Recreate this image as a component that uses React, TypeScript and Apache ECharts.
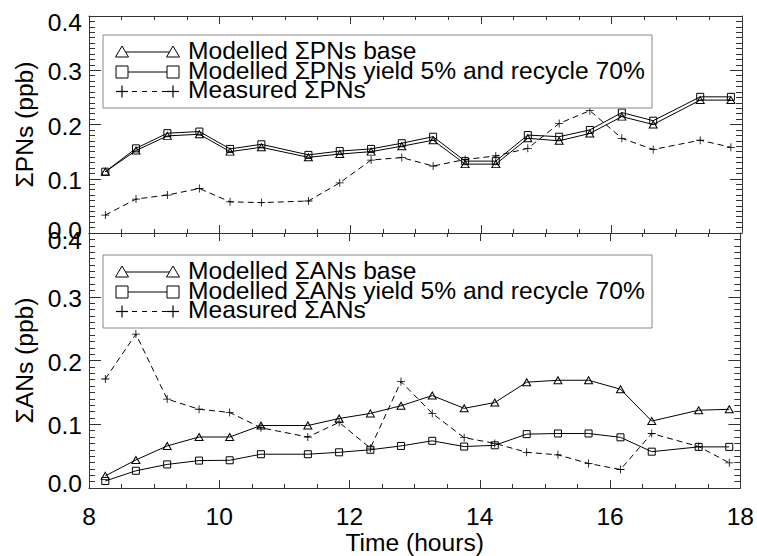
import React, { useEffect, useRef } from "react";
import * as echarts from "echarts";

const times = [8.25, 8.72, 9.2, 9.69, 10.16, 10.64, 11.36, 11.84, 12.32, 12.79, 13.27, 13.76, 14.23, 14.72, 15.2, 15.67, 16.16, 16.64, 17.36, 17.83];

const pnBase = [0.113, 0.152, 0.179, 0.182, 0.150, 0.158, 0.1395, 0.1455, 0.150, 0.160, 0.171, 0.127, 0.127, 0.1745, 0.170, 0.1835, 0.2145, 0.200, 0.245, 0.245];
const pnYield = [0.113, 0.156, 0.184, 0.187, 0.155, 0.1635, 0.144, 0.151, 0.155, 0.1655, 0.1775, 0.1325, 0.1325, 0.1805, 0.1775, 0.190, 0.222, 0.207, 0.251, 0.251];
const pnMeasured = [0.033, 0.0625, 0.070, 0.082, 0.0575, 0.056, 0.059, 0.0925, 0.1345, 0.139, 0.1235, 0.1355, 0.142, 0.156, 0.202, 0.2255, 0.1745, 0.154, 0.171, 0.158];

const anBase = [0.019, 0.044, 0.066, 0.080, 0.080, 0.098, 0.098, 0.109, 0.117, 0.129, 0.145, 0.125, 0.134, 0.166, 0.169, 0.169, 0.155, 0.105, 0.122, 0.1235];
const anYield = [0.011, 0.027, 0.037, 0.043, 0.0435, 0.053, 0.053, 0.056, 0.060, 0.066, 0.074, 0.065, 0.067, 0.0845, 0.0855, 0.0855, 0.0795, 0.057, 0.0645, 0.0645];
const anMeasured = [0.171, 0.2415, 0.1395, 0.1235, 0.1185, 0.0945, 0.080, 0.103, 0.0625, 0.167, 0.117, 0.079, 0.070, 0.056, 0.052, 0.0385, 0.029, 0.0855, 0.065, 0.0395];

const pnLegend = ["Modelled ΣPNs base", "Modelled ΣPNs yield 5% and recycle 70%", "Measured ΣPNs"];
const anLegend = ["Modelled ΣANs base", "Modelled ΣANs yield 5% and recycle 70%", "Measured ΣANs"];
const yTitles = ["ΣPNs (ppb)", "ΣANs (ppb)"];
const xTitle = "Time (hours)";

const FONT = '"Liberation Sans", Arial, Helvetica, sans-serif';
const FS = 24.6;
const INK = "#000";
const FRAME = "#333";

const PLUS = "path://M-0.1,-1 L0.1,-1 L0.1,-0.1 L1,-0.1 L1,0.1 L0.1,0.1 L0.1,1 L-0.1,1 L-0.1,0.1 L-1,0.1 L-1,-0.1 L-0.1,-0.1 Z";

function pairs(vals: number[]) {
  return times.map((t, i) => [t, vals[i]]);
}

function xAx(grid: number, pos: "top" | "bottom", labels: boolean, name?: string) {
  return {
    type: "value",
    gridIndex: grid,
    position: pos,
    min: 8,
    max: 18,
    interval: 2,
    name: name,
    nameLocation: "middle",
    nameGap: 42,
    nameTextStyle: { fontFamily: FONT, fontSize: FS, color: INK },
    axisLine: { show: true, onZero: false, lineStyle: { color: FRAME, width: 1 } },
    axisTick: { show: true, inside: true, length: 8, lineStyle: { color: FRAME } },
    minorTick: { show: true, splitNumber: 4, length: 4, lineStyle: { color: FRAME } },
    axisLabel: { show: labels, fontFamily: FONT, fontSize: FS, color: INK, margin: 16 },
    splitLine: { show: false },
  };
}

// shifts (px, + = down) for the min and max labels of each panel
function yAx(grid: number, pos: "left" | "right", labels: boolean, name?: string, minShift = 0, maxShift = 0) {
  const pad = (d: number) => (d >= 0 ? [2 * d, 0, 0, 0] : [0, 0, -2 * d, 0]);
  return {
    type: "value",
    gridIndex: grid,
    position: pos,
    min: 0,
    max: 0.4,
    interval: 0.1,
    name: name,
    nameLocation: "middle",
    nameRotate: 90,
    nameGap: 52,
    nameTextStyle: { fontFamily: FONT, fontSize: FS, color: INK },
    axisLine: { show: true, onZero: false, lineStyle: { color: FRAME, width: 1 } },
    axisTick: { show: true, inside: true, length: 12, lineStyle: { color: FRAME } },
    minorTick: { show: true, splitNumber: 10, length: 6, lineStyle: { color: FRAME } },
    axisLabel: {
      show: labels,
      fontFamily: FONT,
      fontSize: FS,
      color: INK,
      margin: 7,
      formatter: (v: number) => {
        const s = v.toFixed(1);
        if (Math.abs(v) < 1e-9) return "{lo|" + s + "}";
        if (Math.abs(v - 0.4) < 1e-9) return "{hi|" + s + "}";
        return "{mid|" + s + "}";
      },
      rich: {
        lo: { fontFamily: FONT, fontSize: FS, color: INK, padding: pad(minShift) },
        hi: { fontFamily: FONT, fontSize: FS, color: INK, padding: pad(maxShift) },
        mid: { fontFamily: FONT, fontSize: FS, color: INK, padding: [3, 0, 0, 0] },
      },
    },
    splitLine: { show: false },
  };
}

function lineSeries(name: string, axIdx: number, vals: number[], kind: "tri" | "sq" | "plus") {
  const symbol = kind === "tri" ? "triangle" : kind === "sq" ? "rect" : PLUS;
  const size = kind === "tri" ? [8, 7] : kind === "sq" ? 7 : 8;
  return {
    type: "line",
    name,
    xAxisIndex: axIdx,
    yAxisIndex: axIdx,
    data: pairs(vals),
    symbol,
    symbolSize: size,
    showAllSymbol: true,
    itemStyle:
      kind === "plus"
        ? { color: INK }
        : { color: "rgba(255,255,255,0)", borderColor: INK, borderWidth: 1 },
    lineStyle: { color: INK, width: 1, type: kind === "plus" ? [6, 4] : "solid" },
    z: kind === "plus" ? 2 : 3,
  };
}

function legendGraphics(top: number, labels: string[]) {
  const left = 103;
  const right = 652;
  const x1 = 122;
  const x2 = 173;
  const rows = [top + 17, top + 37, top + 56.5];
  const els: any[] = [
    {
      type: "rect",
      shape: { x: left, y: top, width: right - left, height: 73 },
      style: { fill: "#fff", stroke: "#888", lineWidth: 1 },
      z: 10,
    },
  ];
  rows.forEach((y, i) => {
    els.push({
      type: "line",
      shape: { x1, y1: y, x2, y2: y },
      style: { stroke: INK, lineWidth: 1, lineDash: i === 2 ? [5, 5] : null },
      z: 11,
    });
    [x1, x2].forEach((cx) => {
      if (i === 0) {
        els.push({
          type: "polygon",
          shape: { points: [[cx - 6.5, y + 5], [cx + 6.5, y + 5], [cx, y - 6]] },
          style: { fill: "#fff", stroke: INK, lineWidth: 1 },
          z: 12,
        });
      } else if (i === 1) {
        els.push({
          type: "rect",
          shape: { x: cx - 6, y: y - 6, width: 12, height: 12 },
          style: { fill: "#fff", stroke: INK, lineWidth: 1 },
          z: 12,
        });
      } else {
        els.push({ type: "line", shape: { x1: cx - 6, y1: y, x2: cx + 6, y2: y }, style: { stroke: INK, lineWidth: 1.2 }, z: 12 });
        els.push({ type: "line", shape: { x1: cx, y1: y - 6, x2: cx, y2: y + 6 }, style: { stroke: INK, lineWidth: 1.2 }, z: 12 });
      }
    });
    els.push({
      type: "text",
      x: 188,
      y: y - 2,
      style: {
        text: labels[i],
        fontFamily: FONT,
        fontSize: FS,
        lineHeight: 19,
        fill: INK,
        align: "left",
        verticalAlign: "middle",
      },
      z: 12,
    });
  });
  return els;
}

export default function App() {
  const ref = useRef<HTMLDivElement>(null);
  useEffect(() => {
    if (!ref.current) return;
    const chart = echarts.init(ref.current, null, { renderer: "svg" });
    chart.setOption({
      animation: false,
      backgroundColor: "#fff",
      grid: [
        { left: 89, top: 16, width: 653, height: 217 },
        { left: 89, top: 233, width: 653, height: 260 },
      ],
      xAxis: [
        xAx(0, "bottom", false),
        xAx(0, "top", false),
        xAx(1, "bottom", true, xTitle),
        xAx(1, "top", false),
      ],
      yAxis: [
        yAx(0, "left", true, yTitles[0], -3, 6),
        yAx(0, "right", false),
        yAx(1, "left", true, yTitles[1], -5, 7),
        yAx(1, "right", false),
      ],
      series: [
        lineSeries(pnLegend[0], 0, pnBase, "tri"),
        lineSeries(pnLegend[1], 0, pnYield, "sq"),
        lineSeries(pnLegend[2], 0, pnMeasured, "plus"),
        lineSeries(anLegend[0], 2, anBase, "tri"),
        lineSeries(anLegend[1], 2, anYield, "sq"),
        lineSeries(anLegend[2], 2, anMeasured, "plus"),
      ],
      graphic: [...legendGraphics(35, pnLegend), ...legendGraphics(255, anLegend)],
    });
    return () => chart.dispose();
  }, []);
  return (
    <div
      ref={ref}
      style={{ position: "absolute", left: 0, top: 0, width: 757, height: 556, background: "#fff" }}
    />
  );
}
